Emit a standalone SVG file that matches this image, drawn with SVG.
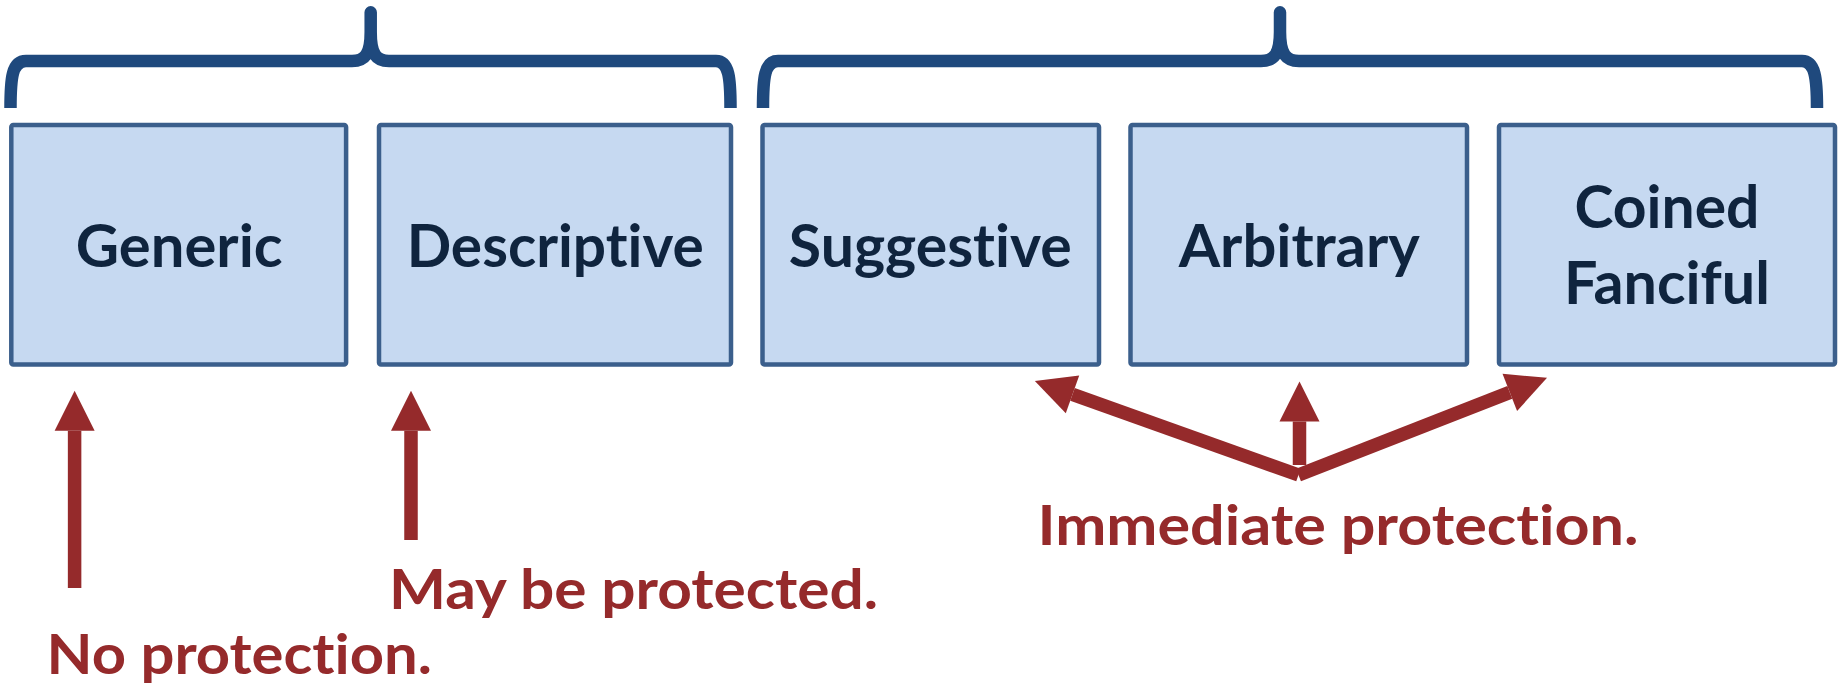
<svg xmlns="http://www.w3.org/2000/svg" width="1841" height="685" viewBox="0 0 1841 685">
<style>
.box{fill:#c6d9f1;stroke:#3b5f8c;stroke-width:4.5}
.lbl{font-family:Lato,"Liberation Sans",sans-serif;font-weight:bold;font-size:59px;fill:#0f243e;text-anchor:middle;font-variant-ligatures:none;font-feature-settings:"liga" 0,"clig" 0}
.note{font-family:Lato,"Liberation Sans",sans-serif;font-weight:bold;font-size:56px;fill:#952a2b;font-variant-ligatures:none;font-feature-settings:"liga" 0,"clig" 0}
.brace{fill:none;stroke:#1f497d;stroke-width:12.5;stroke-linejoin:round;stroke-linecap:butt}
.arr{fill:none;stroke:#952a2b;stroke-width:13.5;stroke-linecap:butt}
</style>
<defs>
<marker id="head" markerUnits="userSpaceOnUse" markerWidth="40" markerHeight="40" viewBox="0 -20 40 40" refX="0" refY="0" orient="auto" overflow="visible">
<path d="M0,-20 L40,0 L0,20 Z" fill="#952a2b"/>
</marker>
</defs>
<rect width="1841" height="685" fill="#ffffff"/>
<g id="brace-left">
<path class="brace" d="M10.5,108 C10.5,78 12,61 26,61 L352,61 C365,61 370.7,54 370.7,32 L370.7,12.3 L370.7,32 C370.7,54 376,61 389,61 L716,61 C729,61 730.5,78 730.5,108"/>
</g>
<g id="brace-right">
<path class="brace" d="M763,108 C763,78 764.5,61 778,61 L1261,61 C1274,61 1280,54 1280,32 L1280,12.3 L1280,32 C1280,54 1286,61 1299,61 L1802,61 C1815,61 1817,78 1817,108"/>
</g>
<g id="node-generic">
<rect class="box" x="11.3" y="125" width="334.8" height="239.5" rx="2"/>
<text class="lbl" x="179.2" y="266.7" textLength="207" lengthAdjust="spacingAndGlyphs">Generic</text>
</g>
<g id="node-descriptive">
<rect class="box" x="379" y="125" width="352" height="239.5" rx="2"/>
<text class="lbl" x="555.2" y="266.7" textLength="297" lengthAdjust="spacingAndGlyphs">Descriptive</text>
</g>
<g id="node-suggestive">
<rect class="box" x="762.5" y="125" width="336.5" height="239.5" rx="2"/>
<text class="lbl" x="930.3" y="266.7" textLength="283" lengthAdjust="spacingAndGlyphs">Suggestive</text>
</g>
<g id="node-arbitrary">
<rect class="box" x="1130.5" y="125" width="336.5" height="239.5" rx="2"/>
<text class="lbl" x="1299.2" y="266.7" textLength="241" lengthAdjust="spacingAndGlyphs">Arbitrary</text>
</g>
<g id="node-coined">
<rect class="box" x="1499" y="125" width="336" height="239.5" rx="2"/>
<text class="lbl" x="1667" y="228.3" textLength="185" lengthAdjust="spacingAndGlyphs">Coined</text>
<text class="lbl" x="1667" y="304" textLength="206" lengthAdjust="spacingAndGlyphs">Fanciful</text>
</g>
<g id="connectors">
<path class="arr" d="M74.6,588 L74.6,430.7" marker-end="url(#head)"/>
<path class="arr" d="M411,540 L411,430.7" marker-end="url(#head)"/>
<path class="arr" d="M1299.5,465 L1299.5,421.5" marker-end="url(#head)"/>
<path class="arr" d="M1298.5,475 L1072.5,394.4" marker-end="url(#head)"/>
<path class="arr" d="M1298.5,475 L1509.8,392.4" marker-end="url(#head)"/>
</g>
<g id="label-no">
<text class="note" x="46.5" y="674" textLength="385.5" lengthAdjust="spacingAndGlyphs">No protection.</text>
</g>
<g id="label-may">
<text class="note" x="389" y="609.3" textLength="489" lengthAdjust="spacingAndGlyphs">May be protected.</text>
</g>
<g id="label-immediate">
<text class="note" x="1037.5" y="545" textLength="601" lengthAdjust="spacingAndGlyphs">Immediate protection.</text>
</g>
</svg>
